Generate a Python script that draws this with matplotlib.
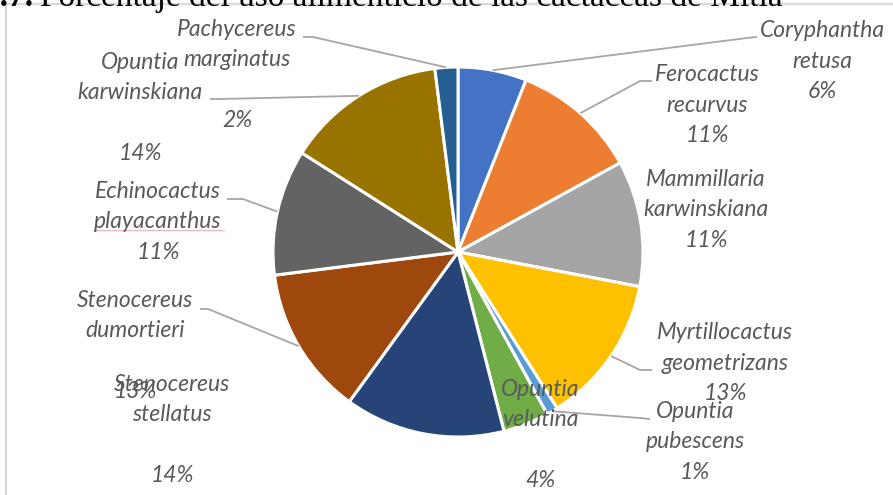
import numpy as np
import matplotlib.pyplot as plt
from matplotlib.patches import Rectangle

# cactus species and their share of food use (%)
species = ["Coryphantha retusa", "Ferocactus recurvus", "Mammillaria karwinskiana",
           "Myrtillocactus geometrizans", "Opuntia pubescens", "Opuntia velutina",
           "Stenocereus stellatus", "Stenocereus dumortieri", "Echinocactus playacanthus",
           "Opuntia karwinskiana", "Pachycereus marginatus"]
shares = [6, 11, 11, 13, 1, 4, 14, 13, 11, 14, 2]
colors = ["#4472C4", "#ED7D31", "#A5A5A5", "#FFC000", "#5B9BD5", "#70AD47",
          "#264478", "#9E480E", "#636363", "#997300", "#255E91"]

W, H = 893, 495

# label block centre (px), blank line before the percent?, leader elbow + end (px)
label_pos = [(822, 61), (707, 105), (706, 210), (725, 363), (695, 442), (540, 435),
             (172, 430), (135, 346), (158, 222), (140, 108), (237, 75)]
label_gap = [False, False, False, False, False, True, True, True, False, True, True]
leaders = [[(747, 38), (757, 37)], [(640, 81), (652, 81)], None,
           [(640, 370), (652, 370)], [(640, 418), (650, 419)], None, None,
           [(208, 309), (200, 309)], [(243, 199), (227, 199)],
           [(220, 99), (210, 99)], [(313, 37), (303, 37)]]


def py(y):
    return H - y


fig = plt.figure(figsize=(W / 100, H / 100), dpi=100)
ax = fig.add_axes([0, 0, 1, 1])

CX, CY, R = 458, py(252), 185
wedges, _ = ax.pie(shares, colors=colors, startangle=90, counterclock=False,
                   center=(CX, CY), radius=R,
                   wedgeprops=dict(edgecolor="white", linewidth=2.2))
ax.set_xlim(0, W)
ax.set_ylim(0, H)
ax.axis("off")

# chart frame
ax.add_patch(Rectangle((6, py(600)), 1000, 596, fill=False,
                       edgecolor="#D9D9D9", linewidth=1.6, clip_on=False))

for w, name, val, pos, gap, ld in zip(wedges, species, shares, label_pos,
                                      label_gap, leaders):
    if ld is not None:
        ang = np.deg2rad((w.theta1 + w.theta2) / 2)
        xs = [CX + R * np.cos(ang)] + [p[0] for p in ld]
        ys = [CY + R * np.sin(ang)] + [py(p[1]) for p in ld]
        ax.plot(xs, ys, color="#A6A6A6", linewidth=1.3, solid_capstyle="butt")
    txt = name.replace(" ", "\n") + ("\n\n" if gap else "\n") + f"{val}%"
    ax.text(pos[0], py(pos[1]), txt, ha="center", va="center",
            multialignment="center", fontsize=16.5, family="Lato",
            style="italic", color="#595959", linespacing=1.53)

# spell-check underline under "playacanthus"
ax.plot([93, 224], [py(230), py(230)], color="#F4B8B8", linewidth=0.8)

# heading above the chart, cut at the top
fig.text(34 / W, 1 - 6 / H, "3.7.", family="Liberation Serif", weight="bold",
         fontsize=24, va="baseline", ha="right", color="black")
fig.text(40 / W, 1 - 6 / H, "Porcentaje del uso alimenticio de las cactáceas de Mitla",
         family="Liberation Serif", fontsize=24, va="baseline", ha="left",
         color="black")

fig.savefig("out.png", dpi=100)
